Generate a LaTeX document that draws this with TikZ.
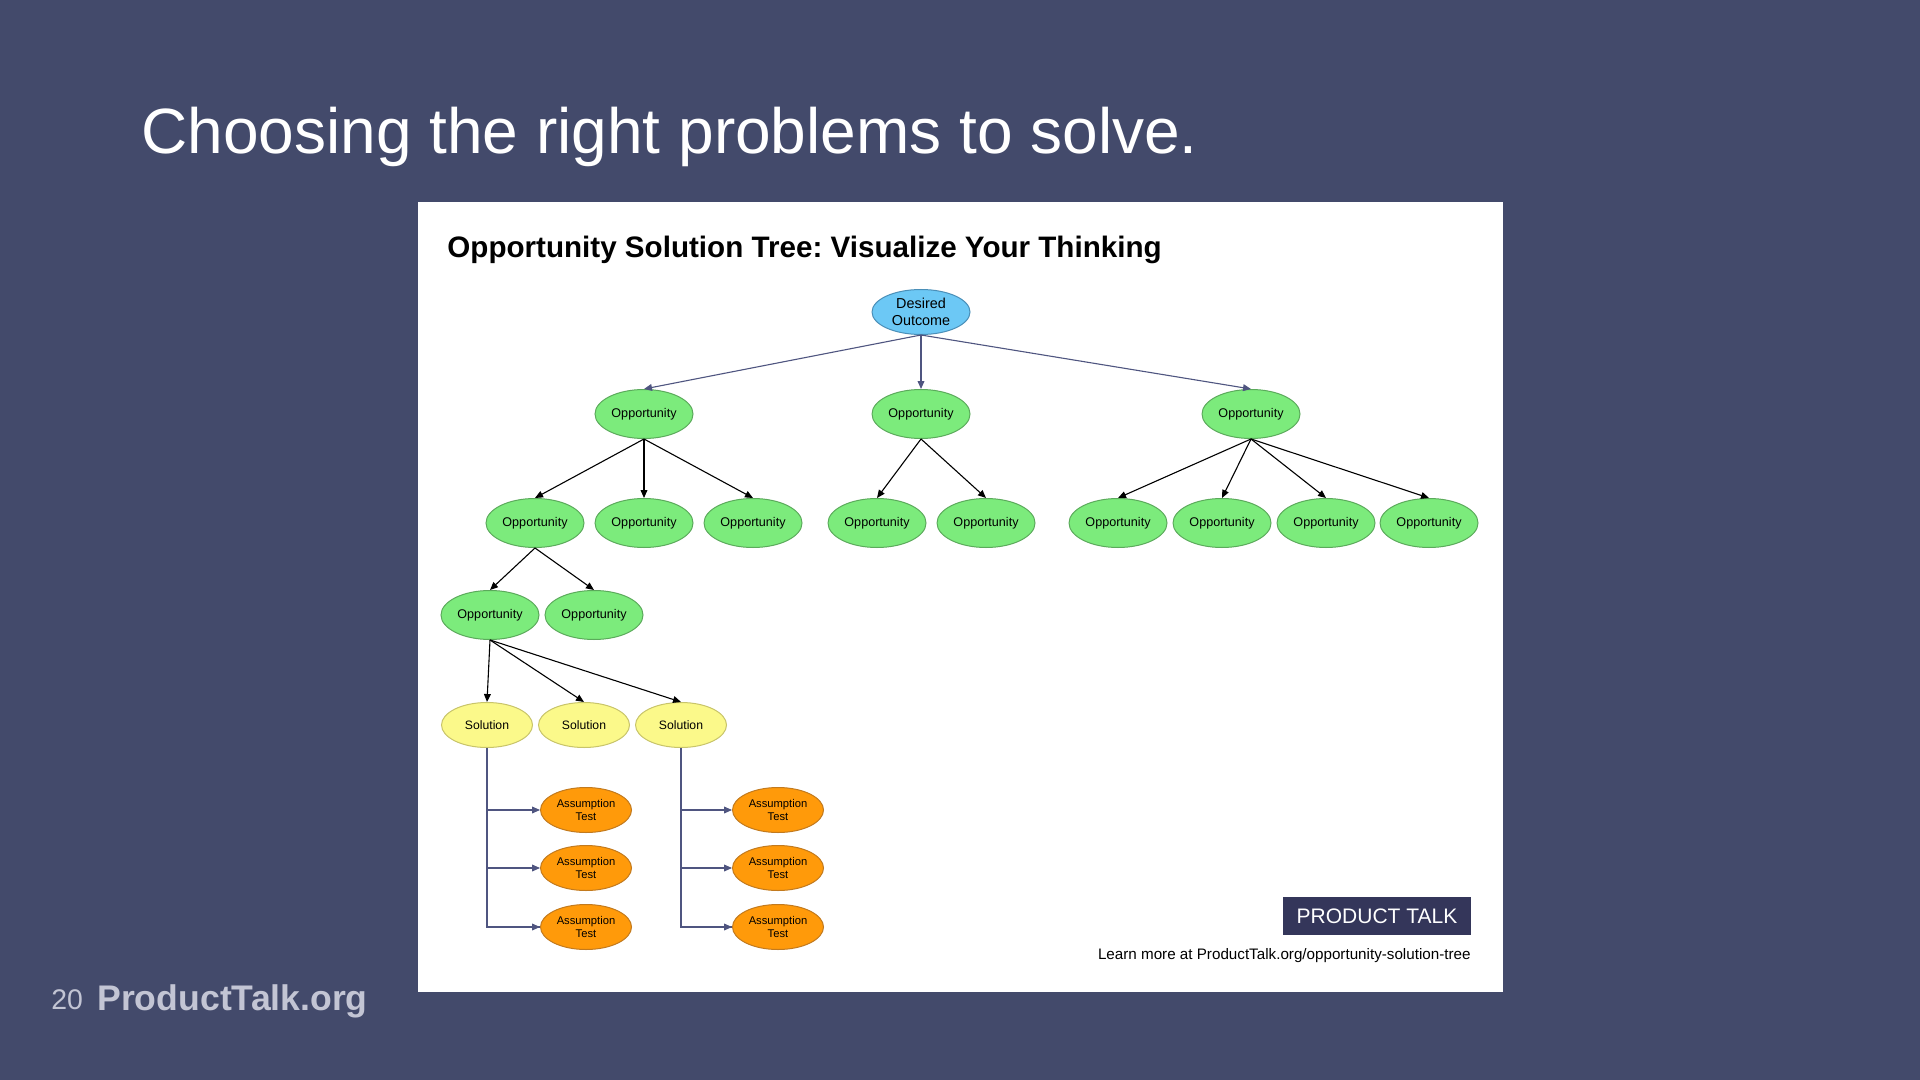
\documentclass[tikz,border=0pt]{standalone}
\usepackage{fontspec}
\setmainfont{Liberation Sans}
\usetikzlibrary{shapes.geometric,arrows.meta}
\frenchspacing
\definecolor{bgcol}{HTML}{434A6B}
\definecolor{oppfill}{HTML}{7CEB7C}
\definecolor{oppline}{HTML}{5BAA5B}
\definecolor{dofill}{HTML}{6CC8F5}
\definecolor{doline}{HTML}{4A8FB8}
\definecolor{solfill}{HTML}{FBF98A}
\definecolor{solline}{HTML}{C8C46A}
\definecolor{asfill}{HTML}{FF9A0A}
\definecolor{asline}{HTML}{C27A1E}
\definecolor{linkcol}{HTML}{4F5580}
\definecolor{ptbox}{HTML}{34365A}
\definecolor{footcol}{HTML}{C3C5D4}
\tikzset{
  bubble/.style={ellipse, draw, line width=0.5pt, inner sep=0pt},
  outcome/.style={bubble, draw=doline, fill=dofill, minimum width=49pt, minimum height=22.5pt, align=center, font=\fontsize{7.2pt}{8.6pt}\selectfont},
  opp/.style={bubble, draw=oppline, fill=oppfill, minimum width=49pt, minimum height=24.5pt, font=\fontsize{6.3pt}{7.5pt}\selectfont},
  sol/.style={bubble, draw=solline, fill=solfill, minimum width=45.5pt, minimum height=22.5pt, font=\fontsize{6.1pt}{7.2pt}\selectfont},
  test/.style={bubble, draw=asline, fill=asfill, minimum width=45.5pt, minimum height=22.5pt, align=center, font=\fontsize{5.6pt}{6.5pt}\selectfont},
  blk/.style={draw=black, line width=0.55pt, -{Triangle[length=4pt,width=3.4pt]}},
  lnk/.style={draw=linkcol, line width=0.55pt, -{Triangle[length=4pt,width=3.4pt]}},
  lnkplain/.style={draw=linkcol, line width=0.55pt},
}
\begin{document}
\begin{tikzpicture}[x=0.5pt,y=-0.5pt]
\fill[bgcol] (0,0) rectangle (1920,1080);
\useasboundingbox (0,0) rectangle (1920,1080);
% slide title
\node[anchor=base west, inner sep=0pt, text=white, font=\fontsize{32pt}{36pt}\selectfont] (title) at (141,154) {Choosing the right problems to solve.};
% white panel
\fill[white] (417.5,202) rectangle (1502.5,992);
\node[anchor=base west, inner sep=0pt, font=\bfseries\fontsize{14.8pt}{17pt}\selectfont] (sub) at (447,258) {Opportunity Solution Tree: Visualize Your Thinking};
% nodes
\node[outcome] (do) at (921,312) {Desired\\Outcome};
\node[opp] (o1) at (644,414) {Opportunity};
\node[opp] (o2) at (921,414) {Opportunity};
\node[opp] (o3) at (1251,414) {Opportunity};
\node[opp] (o11) at (535,523) {Opportunity};
\node[opp] (o12) at (644,523) {Opportunity};
\node[opp] (o13) at (753,523) {Opportunity};
\node[opp] (o21) at (877,523) {Opportunity};
\node[opp] (o22) at (986,523) {Opportunity};
\node[opp] (o31) at (1118,523) {Opportunity};
\node[opp] (o32) at (1222,523) {Opportunity};
\node[opp] (o33) at (1326,523) {Opportunity};
\node[opp] (o34) at (1429,523) {Opportunity};
\node[opp] (o111) at (490,615) {Opportunity};
\node[opp] (o112) at (594,615) {Opportunity};
\node[sol] (s1) at (487,725) {Solution};
\node[sol] (s2) at (584,725) {Solution};
\node[sol] (s3) at (681,725) {Solution};
\node[test] (a11) at (586,810) {Assumption\\Test};
\node[test] (a12) at (586,868) {Assumption\\Test};
\node[test] (a13) at (586,927) {Assumption\\Test};
\node[test] (a31) at (778,810) {Assumption\\Test};
\node[test] (a32) at (778,868) {Assumption\\Test};
\node[test] (a33) at (778,927) {Assumption\\Test};
% connectors
\draw[lnk] (do.south) -- (o1.north);
\draw[lnk] (do.south) -- (o2.north);
\draw[lnk] (do.south) -- (o3.north);
\foreach \c in {o11,o12,o13} \draw[blk] (o1.south) -- (\c.north);
\foreach \c in {o21,o22} \draw[blk] (o2.south) -- (\c.north);
\foreach \c in {o31,o32,o33,o34} \draw[blk] (o3.south) -- (\c.north);
\foreach \c in {o111,o112} \draw[blk] (o11.south) -- (\c.north);
\foreach \c in {s1,s2,s3} \draw[blk] (o111.south) -- (\c.north);
\draw[lnkplain] (s1.south) |- (a13.west);
\draw[lnkplain] (s3.south) |- (a33.west);
\foreach \c in {a11,a12,a13} \draw[lnk] (s1.south |- \c.west) -- (\c.west);
\foreach \c in {a31,a32,a33} \draw[lnk] (s3.south |- \c.west) -- (\c.west);
% brand box
\node[fill=ptbox, text=white, minimum width=94pt, minimum height=19pt, inner sep=0pt, font=\fontsize{10.5pt}{12pt}\selectfont] (pt) at (1377,916) {PRODUCT TALK};
\node[anchor=base east, inner sep=0pt, font=\fontsize{7.6pt}{9pt}\selectfont] (learn) at (1471,959) {Learn more at ProductTalk.org/opportunity-solution-tree};
% footer
\node[anchor=base west, inner sep=0pt, text=footcol, font=\fontsize{14.2pt}{17pt}\selectfont] (num) at (51,1009) {20};
\node[anchor=base west, inner sep=0pt, text=footcol, font=\bfseries\fontsize{17.8pt}{20pt}\selectfont] (site) at (97,1010) {ProductTalk.org};
\end{tikzpicture}
\end{document}
